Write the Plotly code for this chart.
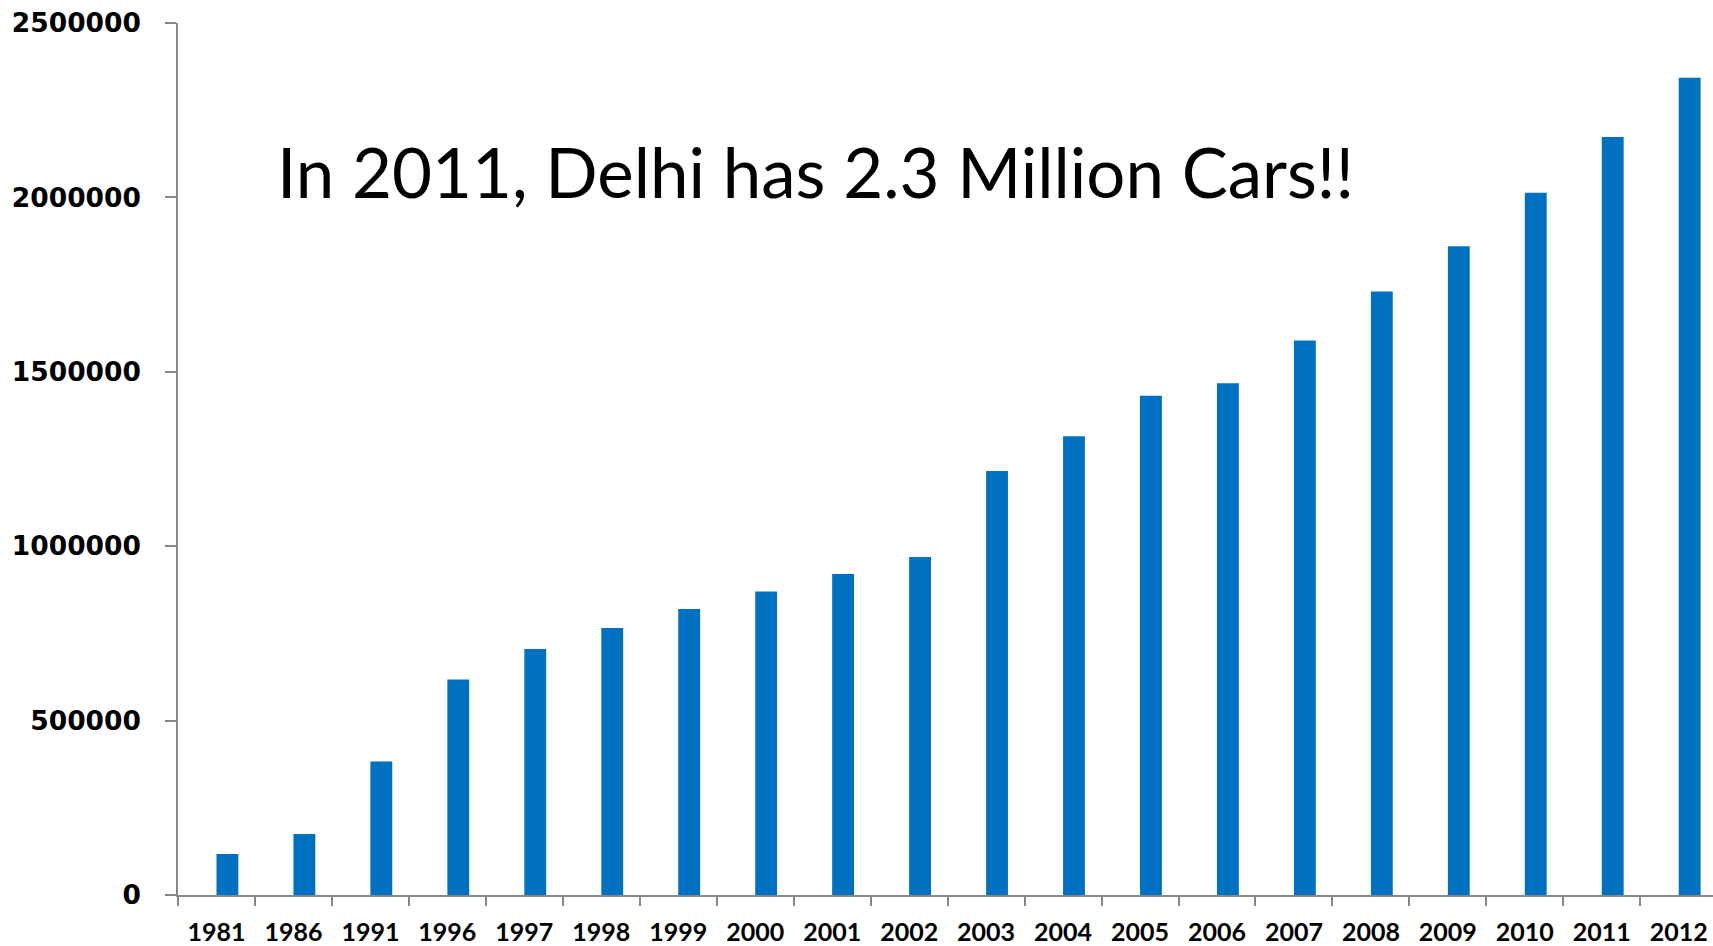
import plotly.graph_objects as go

years = ["1981", "1986", "1991", "1996", "1997", "1998", "1999", "2000", "2001", "2002",
         "2003", "2004", "2005", "2006", "2007", "2008", "2009", "2010", "2011", "2012"]
cars = [117500, 175000, 383000, 618000, 705000, 765500, 820000, 870000, 920000, 969000,
        1215600, 1315000, 1431500, 1467000, 1590000, 1730000, 1860000, 2013500, 2173000, 2343000]
y_ticks = [0, 500000, 1000000, 1500000, 2000000, 2500000]
headline = "In 2011, Delhi has 2.3 Million Cars!!"

fig = go.Figure()
fig.add_trace(go.Bar(
    x=years, y=cars,
    marker=dict(color="#0070C0", line=dict(width=0)),
    width=0.284, offset=0.0,
    showlegend=False, hoverinfo="x+y",
))

axis_col = "#888888"
fig.update_layout(
    width=1713, height=946,
    margin=dict(l=178, r=0, t=23, b=51, autoexpand=False),
    paper_bgcolor="white", plot_bgcolor="white",
    font=dict(family="Lato", color="black"),
    xaxis=dict(
        type="category", range=[-0.5, 19.445], automargin=False,
        showline=True, linecolor=axis_col, linewidth=1.5,
        ticks="outside", tickson="boundaries", ticklen=9, tickwidth=1.5, tickcolor=axis_col,
        tickfont=dict(family="Lato", size=25, color="black", weight="bold"),
        ticklabelstandoff=14,
        showgrid=False, zeroline=False,
    ),
    yaxis=dict(
        range=[0, 2500000], tickvals=y_ticks, ticktext=[str(v) for v in y_ticks],
        automargin=False,
        showline=True, linecolor=axis_col, linewidth=1.5,
        ticks="outside", ticklen=11, tickwidth=1.5, tickcolor=axis_col,
        tickfont=dict(family="DejaVu Sans", size=26.5, color="black", weight="bold"),
        ticklabelstandoff=19,
        showgrid=False, zeroline=False,
    ),
    annotations=[dict(
        text=headline, xref="paper", yref="paper",
        x=(275 - 178) / 1535, y=0.830, xanchor="left", yanchor="middle",
        showarrow=False, font=dict(family="Lato", size=69, color="black"),
    )],
)

fig.write_html(
    "out.html",
    config={"displayModeBar": False},
    post_script="document.body.style.margin='0px';document.body.style.padding='0px';",
)
